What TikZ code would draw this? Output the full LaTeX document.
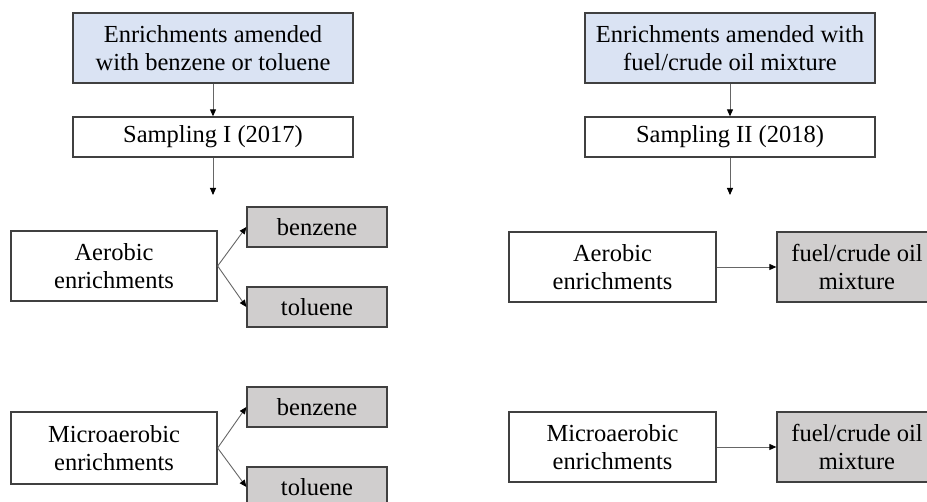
\documentclass[tikz,border=0pt]{standalone}
\usepackage{fontspec}
\setmainfont{Liberation Serif}
\usetikzlibrary{arrows.meta}
\definecolor{boxblue}{HTML}{DAE3F3}
\definecolor{boxgray}{HTML}{D0CECE}
\tikzset{
	box/.style={draw=black!75, line width=1.3pt, fill=white, inner sep=0pt, align=center,
		font=\fontsize{24.5}{28}\selectfont},
	startbox/.style={box, fill=boxblue},
	substbox/.style={box, fill=boxgray},
	pfeil/.style={draw=black!60, line width=0.9pt, -{Triangle[length=7pt,width=6pt,color=black]}}
}
\begin{document}
\begin{tikzpicture}[x=1pt,y=-1pt]
		% Rahmen
		\useasboundingbox (0,0) rectangle (927,502);
		% Links: Sampling I
		\node [startbox, minimum width=280, minimum height=70] (start1) at (213,48) {Enrichments amended\\with benzene or toluene};
		\node [box, minimum width=280, minimum height=40] (samp1) at (213,137) {Sampling I (2017)};
		\coordinate (end1) at (213,195);
		\node [box, minimum width=206, minimum height=70] (aer1) at (114,266) {Aerobic\\enrichments};
		\node [substbox, minimum width=140, minimum height=40] (ben1) at (317,227) {benzene};
		\node [substbox, minimum width=140, minimum height=40] (tol1) at (317,307) {toluene};
		\node [box, minimum width=206, minimum height=72] (mic1) at (114,448) {Microaerobic\\enrichments};
		\node [substbox, minimum width=140, minimum height=40] (ben2) at (317,407) {benzene};
		\node [substbox, minimum width=140, minimum height=40] (tol2) at (317,487) {toluene};
		% Rechts: Sampling II
		\node [startbox, minimum width=290, minimum height=70] (start2) at (730,48) {Enrichments amended with\\fuel/crude oil mixture};
		\node [box, minimum width=290, minimum height=40] (samp2) at (730,137) {Sampling II (2018)};
		\coordinate (end2) at (730,195);
		\node [box, minimum width=207, minimum height=70] (aer2) at (612.5,267) {Aerobic\\enrichments};
		\node [substbox, minimum width=160, minimum height=70] (fuel1) at (857,267) {fuel/crude oil\\mixture};
		\node [box, minimum width=207, minimum height=70] (mic2) at (612.5,447) {Microaerobic\\enrichments};
		\node [substbox, minimum width=160, minimum height=70] (fuel2) at (857,447) {fuel/crude oil\\mixture};
		% Pfeile
		\draw [pfeil] (start1) -- (samp1);
		\draw [pfeil] (samp1) -- (end1);
		\draw [pfeil] (aer1.east) -- (ben1.west);
		\draw [pfeil] (aer1.east) -- (tol1.west);
		\draw [pfeil] (mic1.east) -- (ben2.west);
		\draw [pfeil] (mic1.east) -- (tol2.west);
		\draw [pfeil] (start2) -- (samp2);
		\draw [pfeil] (samp2) -- (end2);
		\draw [pfeil] (aer2) -- (fuel1);
		\draw [pfeil] (mic2) -- (fuel2);
\end{tikzpicture}
\end{document}
